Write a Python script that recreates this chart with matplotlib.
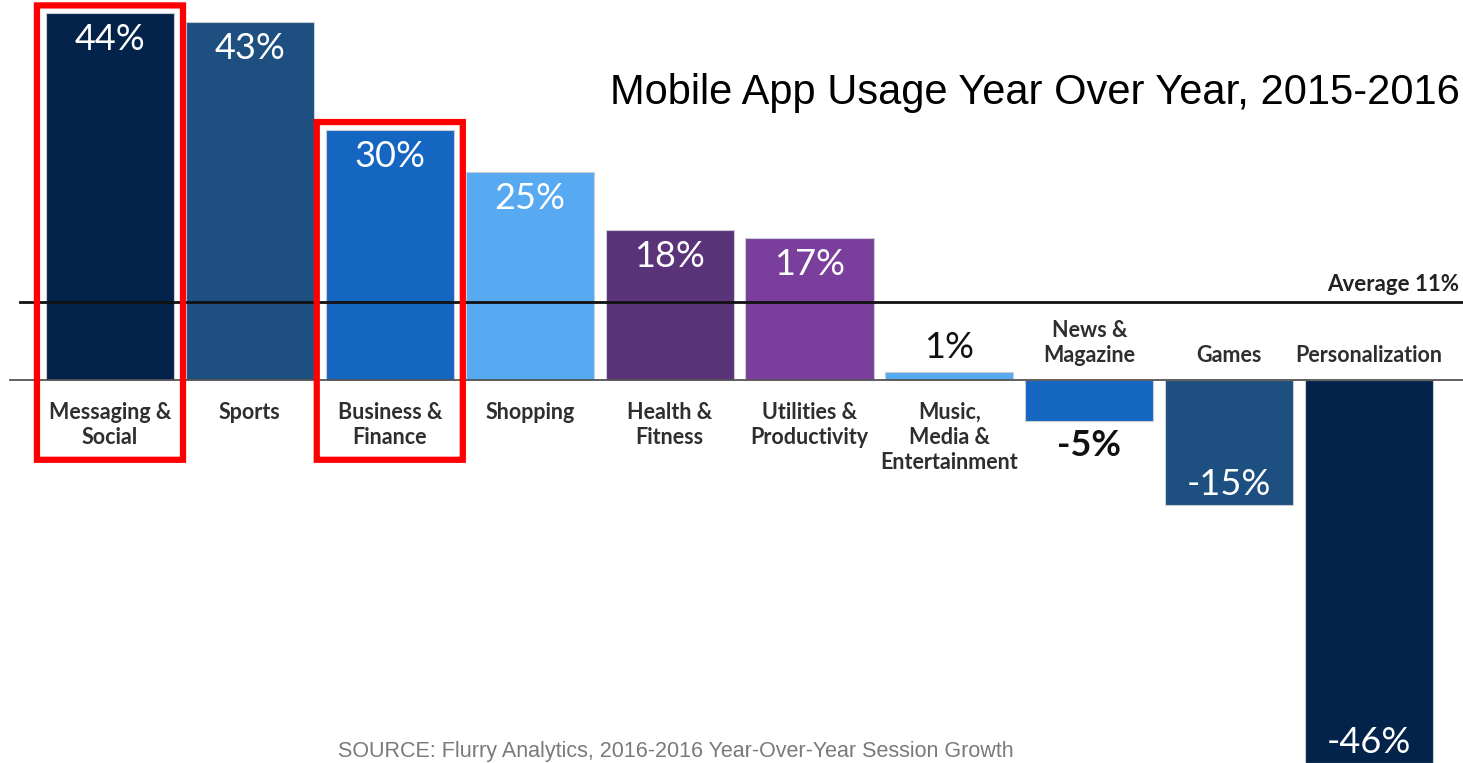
import matplotlib
matplotlib.use("Agg")
import matplotlib.pyplot as plt
from matplotlib.patches import FancyBboxPatch

# ---- data ----
categories = ["Messaging &\nSocial", "Sports", "Business &\nFinance", "Shopping",
              "Health &\nFitness", "Utilities &\nProductivity",
              "Music,\nMedia &\nEntertainment", "News &\nMagazine", "Games",
              "Personalization"]
growth = [44, 43, 30, 25, 18, 17, 1, -5, -15, -46]
bar_colors = ["#03234b", "#1d4f80", "#1466c0", "#57aaf2", "#5b3379",
              "#7a3f9c", "#57aaf2", "#1466c0", "#1d4f80", "#03234b"]
value_labels = ["44%", "43%", "30%", "25%", "18%", "17%", "1%", "-5%", "-15%", "-46%"]
highlighted = [0, 2]
average_label = "Average 11%"
average_line_level = 9.4   # where the average line sits on the bar scale
title = "Mobile App Usage Year Over Year, 2015-2016"
source = "SOURCE: Flurry Analytics, 2016-2016 Year-Over-Year Session Growth"

W, H = 1463, 763
fig = plt.figure(figsize=(W / 100, H / 100), dpi=100)
ax = fig.add_axes([0, 0, 1, 1])
ax.set_xlim(-0.786, 9.671)
ax.set_ylim(-46.0, 45.6)
ax.axis("off")

x = list(range(len(categories)))
bw = 0.915
ax.bar(x, growth, width=bw, color=bar_colors, edgecolor="#c9ced6", linewidth=0.8, zorder=2)

label_font = "Lato"
# zero line and average line
ax.plot([-0.715, 9.671], [0, 0], color="#555555", lw=1.3, zorder=3)
ax.plot([-0.643, 9.671], [average_line_level] * 2, color="#111111", lw=2.0, zorder=3)
ax.annotate(average_label, xy=(9.64, average_line_level), xytext=(0, 7),
            textcoords="offset pixels", ha="right", va="bottom",
            fontsize=16, fontweight="bold", color="#222222", family=label_font)

for i, (v, lab, cat) in enumerate(zip(growth, value_labels, categories)):
    # value labels
    if v >= 10:
        ax.annotate(lab, xy=(i, v), xytext=(0, -10), textcoords="offset pixels",
                    ha="center", va="top", fontsize=26, color="white", family=label_font)
    elif v >= 0:
        ax.annotate(lab, xy=(i, v), xytext=(0, 8), textcoords="offset pixels",
                    ha="center", va="bottom", fontsize=26, color="#111111", family=label_font)
    elif v > -10:
        ax.annotate(lab, xy=(i, v), xytext=(0, -8), textcoords="offset pixels",
                    ha="center", va="top", fontsize=26, color="#111111",
                    fontweight="bold", family=label_font)
    else:
        ax.annotate(lab, xy=(i, max(v, -46.0)), xytext=(0, 4), textcoords="offset pixels",
                    ha="center", va="bottom", fontsize=26, color="white", family=label_font)
    # category labels
    if v >= 0:
        ax.annotate(cat, xy=(i, 0), xytext=(0, -22), textcoords="offset pixels",
                    ha="center", va="top", fontsize=15.5, fontweight="bold",
                    color="#2e2e2e", family=label_font, linespacing=1.25)
    else:
        ax.annotate(cat, xy=(i, 0), xytext=(0, 14), textcoords="offset pixels",
                    ha="center", va="bottom", fontsize=15.5, fontweight="bold",
                    color="#2e2e2e", family=label_font, linespacing=1.25)

# red highlight boxes
for i in highlighted:
    top = growth[i] + 0.95
    bottom = -9.6
    box = FancyBboxPatch((i - 0.522, bottom), 1.044, top - bottom,
                         boxstyle="round,pad=0,rounding_size=0.03",
                         fill=False, edgecolor="#ff0000", linewidth=4.5, zorder=5,
                         mutation_aspect=8.33 / 139.9)
    ax.add_patch(box)

ax.text(1460 / W, 1 - 93 / H, title, transform=fig.transFigure, ha="right", va="center",
        fontsize=30, family="Liberation Sans", color="black")
ax.text(676 / W, 1 - 741 / H, source, transform=fig.transFigure, ha="center", va="top",
        fontsize=15.5, family="Liberation Sans", color="#7a7a7a")

fig.savefig("out.png", dpi=100)
